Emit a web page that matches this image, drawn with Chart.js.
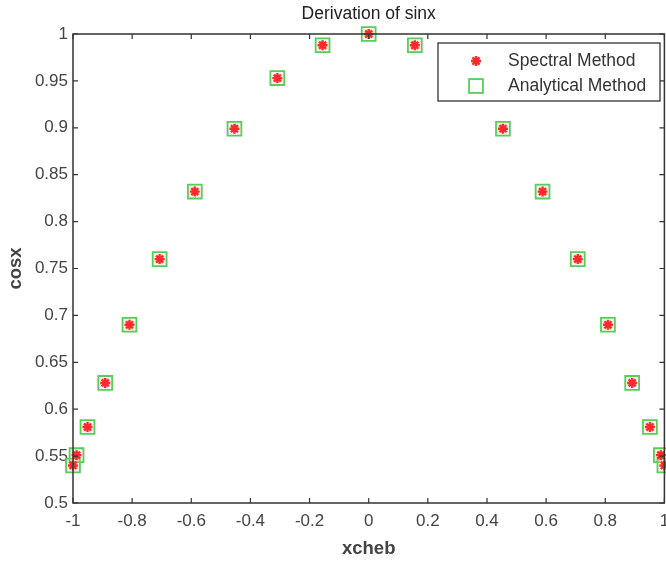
<!DOCTYPE html>
<html>
<head>
<meta charset="utf-8">
<script src="https://cdn.jsdelivr.net/npm/chart.js@4/dist/chart.umd.min.js"></script>
<style>
  html, body { margin: 0; padding: 0; background: #fff; overflow: hidden; }
  body { width: 666px; height: 563px; }
  #wrap { width: 676px; height: 563px; }
</style>
</head>
<body>
<div id="wrap"><canvas id="myChart"></canvas></div>
<script>
// dados
const xcheb = [-1, -0.988, -0.951, -0.891, -0.809, -0.707, -0.588, -0.454, -0.309, -0.156, 0,
               0.156, 0.309, 0.454, 0.588, 0.707, 0.809, 0.891, 0.951, 0.988, 1];
const spectral = [0.540, 0.551, 0.581, 0.628, 0.690, 0.760, 0.832, 0.899, 0.953, 0.988, 1.000,
                  0.988, 0.953, 0.899, 0.832, 0.760, 0.690, 0.628, 0.581, 0.551, 0.540];
const analytical = [0.540, 0.551, 0.581, 0.628, 0.690, 0.760, 0.832, 0.899, 0.953, 0.988, 1.000,
                    0.988, 0.953, 0.899, 0.832, 0.760, 0.690, 0.628, 0.581, 0.551, 0.540];
const xTicks = [-1, -0.8, -0.6, -0.4, -0.2, 0, 0.2, 0.4, 0.6, 0.8, 1];
const yTicks = [0.5, 0.55, 0.6, 0.65, 0.7, 0.75, 0.8, 0.85, 0.9, 0.95, 1];
const titulo = 'Derivation of sinx';

const red = '#ff2a2a';
const green = '#55d055';
const axisColor = '#333333';
const fontFam = '"Liberation Sans", Arial, sans-serif';

// titulo, moldura + ticks para dentro + legenda
const framePlugin = {
  id: 'frame',
  afterDraw(chart) {
    const { ctx, chartArea: a, scales } = chart;
    ctx.save();
    // titulo centrado sobre a area do grafico
    ctx.font = '17.5px ' + fontFam;
    ctx.fillStyle = '#222';
    ctx.textAlign = 'center';
    ctx.textBaseline = 'middle';
    ctx.fillText(titulo, (a.left + a.right) / 2, 14);
    ctx.textAlign = 'left';

    ctx.strokeStyle = axisColor;
    ctx.lineWidth = 1.5;
    ctx.strokeRect(a.left, a.top, a.right - a.left, a.bottom - a.top);
    ctx.lineWidth = 1.2;
    const tl = 5;
    ctx.beginPath();
    xTicks.forEach(v => {
      const px = scales.x.getPixelForValue(v);
      ctx.moveTo(px, a.bottom); ctx.lineTo(px, a.bottom - tl);
      ctx.moveTo(px, a.top); ctx.lineTo(px, a.top + tl);
    });
    yTicks.forEach(v => {
      const py = scales.y.getPixelForValue(v);
      ctx.moveTo(a.left, py); ctx.lineTo(a.left + tl, py);
      ctx.moveTo(a.right, py); ctx.lineTo(a.right - tl, py);
    });
    ctx.stroke();

    // legenda
    const bx = 438, by = 43, bw = 222, bh = 58;
    ctx.fillStyle = '#fff';
    ctx.fillRect(bx, by, bw, bh);
    ctx.strokeStyle = axisColor;
    ctx.lineWidth = 1.3;
    ctx.strokeRect(bx, by, bw, bh);
    ctx.font = '17.5px ' + fontFam;
    ctx.fillStyle = axisColor;
    chart.data.datasets.forEach((ds, i) => {
      const cy = by + 18 + i * 25;
      const cx = 476;
      ctx.fillText(ds.label, 508, cy);
      ctx.strokeStyle = ds.borderColor;
      ctx.lineWidth = ds.borderWidth;
      if (ds.pointStyle === 'star') {
        const r = ds.pointRadius;
        ctx.beginPath();
        for (let k = 0; k < 4; k++) {
          const ang = k * Math.PI / 4;
          ctx.moveTo(cx - r * Math.cos(ang), cy - r * Math.sin(ang));
          ctx.lineTo(cx + r * Math.cos(ang), cy + r * Math.sin(ang));
        }
        ctx.stroke();
      } else {
        const s = ds.pointRadius * Math.SQRT1_2;
        ctx.strokeRect(cx - s, cy - s, 2 * s, 2 * s);
      }
    });
    ctx.restore();
  }
};

const ctx = document.getElementById('myChart');

new Chart(ctx, {
  type: 'scatter',
  data: {
    datasets: [{
      label: 'Spectral Method',
      data: xcheb.map((x, i) => ({ x: x, y: spectral[i] })),
      pointStyle: 'star',
      pointRadius: 5,
      borderColor: red,
      backgroundColor: red,
      borderWidth: 2.4,
      clip: false,
      order: 1
    }, {
      label: 'Analytical Method',
      data: xcheb.map((x, i) => ({ x: x, y: analytical[i] })),
      pointStyle: 'rect',
      pointRadius: 9.8,
      borderColor: green,
      backgroundColor: 'rgba(255,200,200,0.25)',
      borderWidth: 1.8,
      clip: false,
      order: 2
    }]
  },
  options: {
    responsive: true,
    maintainAspectRatio: false,
    animation: false,
    layout: { padding: { left: 0, right: 0, top: 34, bottom: 0 } },
    plugins: {
      legend: { display: false },
      tooltip: { enabled: false },
      title: { display: false }
    },
    scales: {
      x: {
        type: 'linear',
        min: -1, max: 1,
        afterBuildTicks: s => { s.ticks = xTicks.map(v => ({ value: v })); },
        afterFit: s => { s.height = 60; s.paddingLeft = 0; s.paddingRight = 0; },
        grid: { display: false, drawTicks: false },
        border: { display: false },
        ticks: {
          color: '#444', padding: 8, maxRotation: 0,
          font: { family: fontFam, size: 17 },
          callback: v => String(v)
        },
        title: {
          display: true, text: 'xcheb', color: '#444',
          font: { family: fontFam, size: 18.5, weight: 'bold' },
          padding: { top: 0, bottom: 3 }
        }
      },
      y: {
        type: 'linear',
        min: 0.5, max: 1,
        afterBuildTicks: s => { s.ticks = yTicks.map(v => ({ value: v })); },
        afterFit: s => { s.width = 73; s.paddingTop = 0; s.paddingBottom = 0; },
        grid: { display: false, drawTicks: false },
        border: { display: false },
        ticks: {
          color: '#444', padding: 5,
          font: { family: fontFam, size: 17 },
          callback: v => String(v)
        },
        title: {
          display: true, text: 'cosx', color: '#444',
          font: { family: fontFam, size: 18.5, weight: 'bold' },
          padding: { top: 5, bottom: 0 }
        }
      }
    }
  },
  plugins: [framePlugin]
});
</script>
</body>
</html>
